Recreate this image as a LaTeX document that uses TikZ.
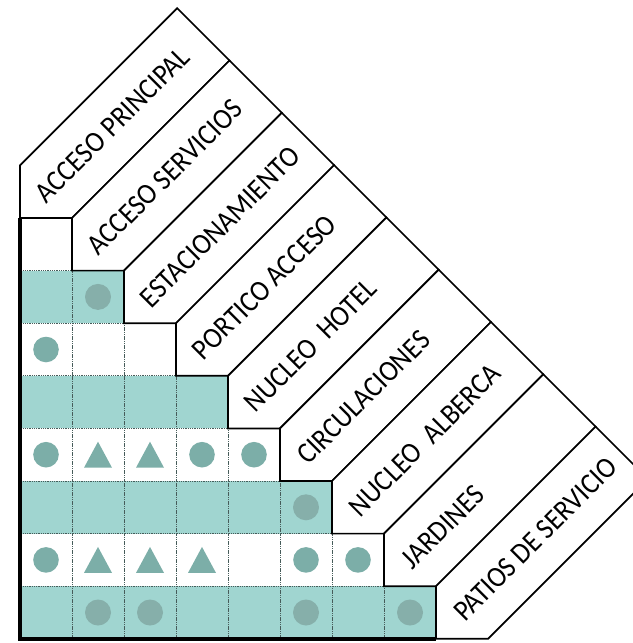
\documentclass[tikz,border=0pt]{standalone}
\usepackage{fontspec}
\setmainfont{Carlito}
\definecolor{cellteal}{HTML}{A0D5D0}
\definecolor{markteal}{HTML}{86AFAA}
\definecolor{markwhite}{HTML}{7CAEA8}
\definecolor{gridline}{RGB}{70,92,90}
\tikzset{
  band/.style={draw=black, fill=white, line width=1.7bp, line join=miter},
  cellgrid/.style={draw=gridline, line width=0.9bp, dash pattern=on 0.9bp off 0.9bp},
  frame/.style={draw=black, line width=3.4bp, line join=miter},
  label/.style={font=\fontsize{29.5bp}{32bp}\selectfont, inner sep=0pt, anchor=west,
    rotate=45, xscale=0.91},
}
\begin{document}
\begin{tikzpicture}[x=1bp, y=-1bp]
\useasboundingbox (0,0) rectangle (633,643);
\clip (0,0) rectangle (633,643);

% matrix cells: row r has r cells, even rows shaded
\foreach \r in {2,4,6,8}{
  \pgfmathsetmacro\ytop{218+52.6*(\r-1)}
  \pgfmathsetmacro\xend{20+52*\r}
  \fill[cellteal] (20,\ytop) rectangle (\xend,\ytop+52.6);
}
\foreach \r in {1,...,8}{
  \foreach \c in {1,...,\r}{
    \pgfmathsetmacro\xa{20+52*(\c-1)}
    \pgfmathsetmacro\ya{218+52.6*(\r-1)}
    \draw[cellgrid] (\xa,\ya) rectangle (\xa+52,\ya+52.6);
  }
}

% diagonal header bands, one per element
\foreach \k/\txt in {1/ACCESO PRINCIPAL, 2/ACCESO SERVICIOS, 3/ESTACIONAMIENTO,
    4/PORTICO ACCESO, 5/NUCLEO\ \ HOTEL, 6/CIRCULACIONES, 7/NUCLEO\ \ ALBERCA,
    8/JARDINES, 9/PATIOS DE SERVICIO}{
  \pgfmathsetmacro\xa{20+52*(\k-1)}
  \pgfmathsetmacro\xb{20+52*\k}
  \pgfmathsetmacro\ya{165.4+52.6*(\k-1)}
  \pgfmathsetmacro\yb{165.4+52.6*\k}
  \pgfmathsetmacro\ca{\xa+\ya}
  \pgfmathsetmacro\cb{\xb+\yb}
  \pgfmathsetmacro\cm{(\ca+\cb)/2}
  \draw[band] (\xa,\ya) -- (\xa,\yb) -- (\xb,\yb)
    -- ({(\cb+169)/2},{(\cb-169)/2}) -- ({(\ca+169)/2},{(\ca-169)/2}) -- cycle;
  \node[label] (lab\k) at ({(\cm-158)/2},{(\cm+158)/2}) {\txt};
}

% outer frame of the matrix
\draw[frame] (20,218) -- (20,639) -- (436,639);

% relation markers
\foreach \r/\c in {3/1,5/1,5/4,5/5,7/1,7/6,7/7}{
  \fill[markwhite] ({20+52*(\c-0.5)},{218+52.6*(\r-0.5)}) circle (12.8);
}
\foreach \r/\c in {2/2,6/6,8/2,8/3,8/6,8/8}{
  \fill[markteal] ({20+52*(\c-0.5)},{218+52.6*(\r-0.5)}) circle (13);
}
\foreach \r/\c in {5/2,5/3,7/2,7/3,7/4}{
  \pgfmathsetmacro\cx{20+52*(\c-0.5)}
  \pgfmathsetmacro\cy{218+52.6*(\r-0.5)}
  \fill[markwhite] (\cx,\cy-13) -- (\cx+14,\cy+13) -- (\cx-14,\cy+13) -- cycle;
}
\end{tikzpicture}
\end{document}
